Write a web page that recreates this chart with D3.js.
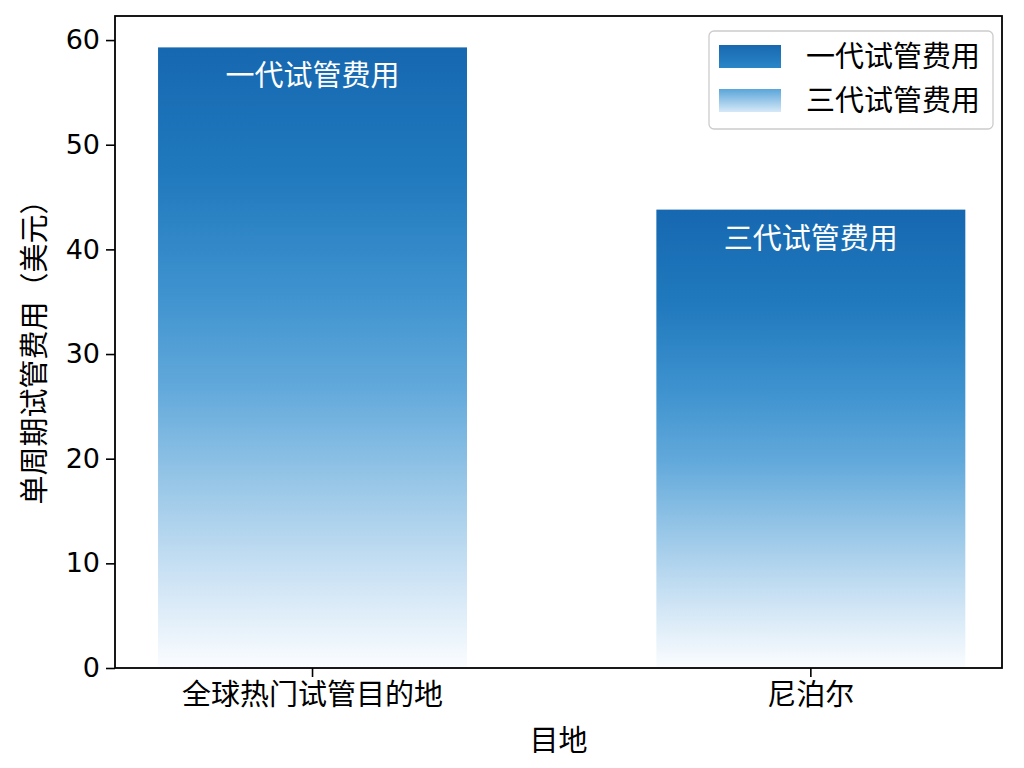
<!DOCTYPE html>
<html>
<head>
<meta charset="utf-8">
<script src="https://cdn.jsdelivr.net/npm/d3@7"></script>
<style>
  body { margin: 0; background: #fff; }
  svg text { font-family: "DejaVu Sans", "Noto Sans CJK SC", sans-serif; }
  .cjk { font-family: "Noto Sans CJK SC", "DejaVu Sans", sans-serif; }
</style>
</head>
<body>
<div id="chart"></div>
<script>
// data
const categories = ["全球热门试管目的地", "尼泊尔"];
const costs = [59.3, 43.8];
const barLabels = ["一代试管费用", "三代试管费用"];
const legendLabels = ["一代试管费用", "三代试管费用"];
const yTicks = [0, 10, 20, 30, 40, 50, 60];

const W = 1024, H = 768;
const margin = {top: 16, right: 22, bottom: 100, left: 115};
const width = W - margin.left - margin.right,
    height = H - margin.top - margin.bottom;

const svg = d3.select("#chart")
    .append("svg")
    .attr("width", W)
    .attr("height", H);

// gradients
const defs = svg.append("defs");
const barGrad = defs.append("linearGradient")
    .attr("id", "barGrad")
    .attr("x1", 0).attr("y1", 0).attr("x2", 0).attr("y2", 1);
[[0, "#1668b0"], [0.2, "#2079bd"], [0.4, "#3f93cf"], [0.55, "#62a9db"],
 [0.7, "#97c6e7"], [0.85, "#cbe2f4"], [1, "#fbfdff"]].forEach(s => {
    barGrad.append("stop").attr("offset", s[0]).attr("stop-color", s[1]);
});
const legGrad1 = defs.append("linearGradient")
    .attr("id", "legGrad1").attr("x1", 0).attr("y1", 0).attr("x2", 0).attr("y2", 1);
legGrad1.append("stop").attr("offset", 0).attr("stop-color", "#1868b0");
legGrad1.append("stop").attr("offset", 1).attr("stop-color", "#2a86c7");
const legGrad2 = defs.append("linearGradient")
    .attr("id", "legGrad2").attr("x1", 0).attr("y1", 0).attr("x2", 0).attr("y2", 1);
legGrad2.append("stop").attr("offset", 0).attr("stop-color", "#5aa5da");
legGrad2.append("stop").attr("offset", 1).attr("stop-color", "#d6e9f7");

const g = svg.append("g")
    .attr("transform", "translate(" + margin.left + "," + margin.top + ")");

const x = d3.scaleBand()
    .domain(categories)
    .range([0, width])
    .paddingInner(0.38)
    .paddingOuter(0.08)
    .align(0.54);

const y = d3.scaleLinear()
    .domain([0, 62.3])
    .range([height, 0]);

// Bars
g.selectAll(".bar")
    .data(costs)
    .join("rect")
    .attr("class", "bar")
    .attr("x", (d, i) => x(categories[i]))
    .attr("y", d => y(d))
    .attr("width", x.bandwidth())
    .attr("height", d => height - y(d))
    .attr("fill", "url(#barGrad)");

// labels inside bars
g.selectAll(".barlabel")
    .data(costs)
    .join("text")
    .attr("class", "barlabel cjk")
    .attr("x", (d, i) => x(categories[i]) + x.bandwidth() / 2)
    .attr("y", d => y(d) + 39)
    .attr("text-anchor", "middle")
    .attr("font-size", 29)
    .attr("fill", "#fff")
    .text((d, i) => barLabels[i]);

// axes
const xAxis = g.append("g")
    .attr("transform", `translate(0, ${height})`)
    .call(d3.axisBottom(x).tickSize(9).tickPadding(7));
xAxis.selectAll("text")
    .attr("class", "cjk")
    .attr("font-size", 29)
    .attr("fill", "#000");

const yAxis = g.append("g")
    .call(d3.axisLeft(y).tickValues(yTicks).tickSize(9).tickPadding(6));
yAxis.selectAll("text")
    .attr("font-size", 27)
    .attr("fill", "#000");

g.selectAll(".domain").remove();
g.selectAll(".tick line").attr("stroke", "#000").attr("stroke-width", 1.6);

// frame
g.append("rect")
    .attr("width", width)
    .attr("height", height)
    .attr("fill", "none")
    .attr("stroke", "#000")
    .attr("stroke-width", 1.8);

// axis titles
g.append("text")
    .attr("class", "cjk")
    .attr("text-anchor", "middle")
    .attr("x", width / 2)
    .attr("y", height + 83)
    .attr("font-size", 29)
    .text("目地");

g.append("text")
    .attr("class", "cjk")
    .attr("text-anchor", "middle")
    .attr("transform", "rotate(-90)")
    .attr("x", -(345 - margin.top))
    .attr("y", -70)
    .attr("font-size", 29)
    .text("单周期试管费用（美元）");

// legend
const legend = g.append("g")
    .attr("transform", "translate(" + (709 - margin.left) + "," + (31 - margin.top) + ")");
legend.append("rect")
    .attr("width", 284)
    .attr("height", 98)
    .attr("rx", 5)
    .attr("fill", "#fff")
    .attr("fill-opacity", 0.85)
    .attr("stroke", "#cccccc")
    .attr("stroke-width", 1.3);
legend.selectAll(".swatch")
    .data(legendLabels)
    .join("rect")
    .attr("class", "swatch")
    .attr("x", 10)
    .attr("y", (d, i) => 14 + i * 44)
    .attr("width", 62)
    .attr("height", 23)
    .attr("fill", (d, i) => i == 0 ? "url(#legGrad1)" : "url(#legGrad2)");
legend.selectAll(".ltext")
    .data(legendLabels)
    .join("text")
    .attr("class", "ltext cjk")
    .attr("x", 97)
    .attr("y", (d, i) => 26 + i * 44)
    .attr("dy", "0.35em")
    .attr("font-size", 29)
    .text(d => d);
</script>
</body>
</html>
